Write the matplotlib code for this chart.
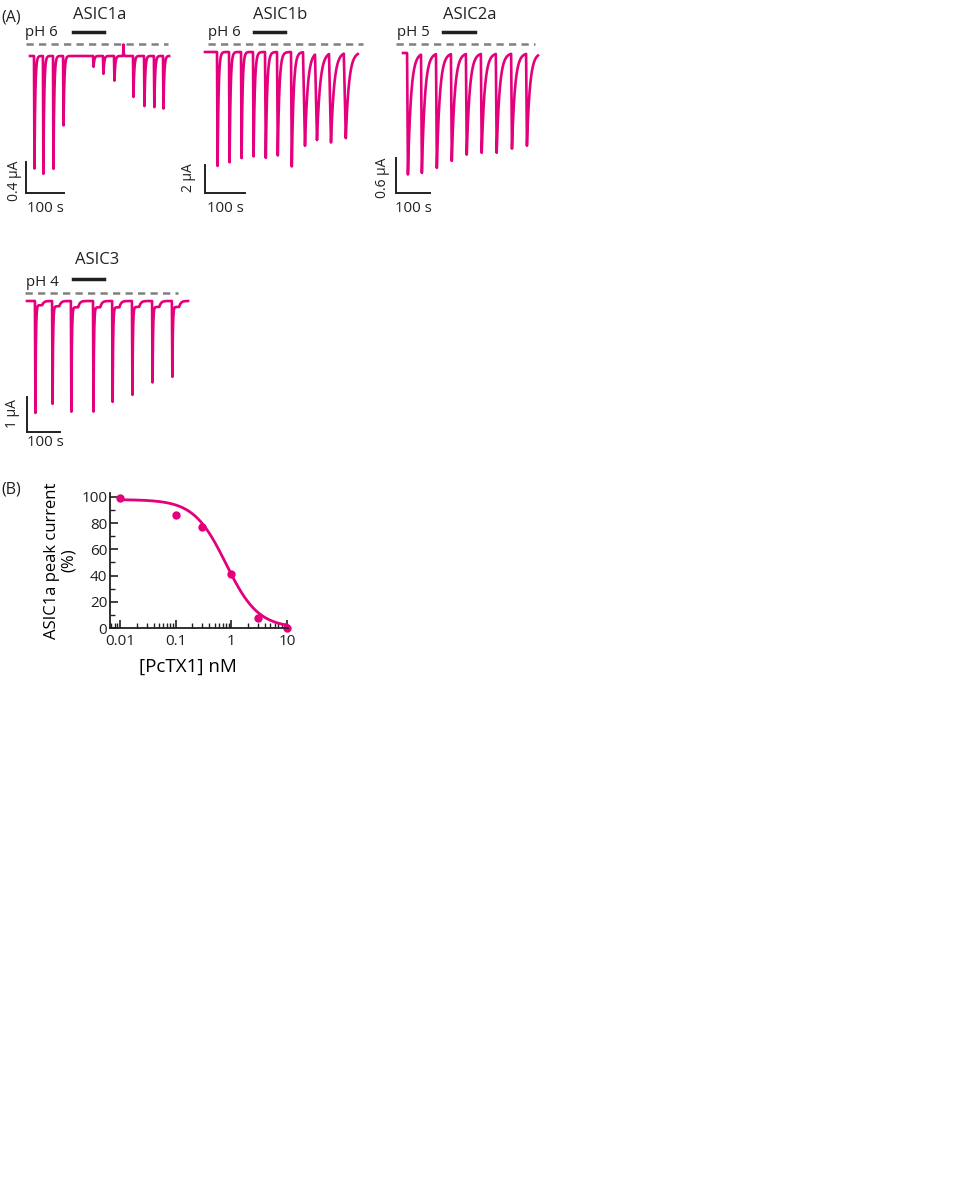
import numpy as np
import matplotlib
matplotlib.use("Agg")
import matplotlib.pyplot as plt
from matplotlib.ticker import LogLocator, NullFormatter

plt.rcParams['font.family'] = ['Open Sans', 'DejaVu Sans']

W, H = 960, 1190
MAG = '#E4007C'
GREY = '#808080'
INK = '#231f20'

# ------------------------------------------------------------------ data
# ASIC1a (pH 6): pulse onset times (s) and peak inward currents (uA)
a1a_times = [10.5, 34, 60.5, 87, 166, 192, 221, 271, 300, 326, 350]
a1a_peaks = [1.46, 1.52, 1.46, 0.90, 0.14, 0.23, 0.32, 0.53, 0.65, 0.66, 0.68]
a1a_art_times = [245]
a1a_art_amps = [-0.15]
a1a_end = 366

# ASIC1b (pH 6)
a1b_times = [30, 60, 90, 120, 150, 180, 215, 245, 275, 310, 347]
a1b_peaks = [8.2, 7.9, 7.6, 7.5, 7.6, 7.4, 8.2, 6.7, 6.2, 6.4, 6.1]
a1b_tau = [2.5, 2.5, 2.5, 3, 3.5, 4, 4.5, 7, 8, 8, 8]
a1b_rise = [1.5, 1.5, 1.5, 1.5, 2, 2, 2, 5, 5, 5, 5]
a1b_end = 382

# ASIC2a (pH 5)
a2a_times = [12, 53, 97, 141, 185, 229, 273, 318, 362]
a2a_peaks = [2.09, 2.04, 1.96, 1.84, 1.73, 1.70, 1.70, 1.63, 1.58]
a2a_end = 397

# ASIC3 (pH 4)
a3_times = [24, 76, 133, 200, 258, 318, 379, 439]
a3_peaks = [3.20, 2.97, 3.17, 3.20, 2.91, 2.69, 2.34, 2.17]
a3_sustained = [0.12, 0.15, 0.18, 0.18, 0.18, 0.17, 0.17, 0.17]
a3_end = 488

# (B) dose-response
pctx_conc = [0.01, 0.1, 0.3, 1, 3, 10]
pctx_resp = [99, 86, 77, 41, 8, 0]
fit_top, fit_ic50, fit_hill = 98, 0.8, 1.5

# ------------------------------------------------------------------ helpers
fig = plt.figure(figsize=(W / 100, H / 100), dpi=100)


def ftext(x, y, s, ha='left', va='center', size=10, rot=0):
    fig.text(x / W, 1 - y / H, s, ha=ha, va=va, fontsize=size, rotation=rot,
             color=INK)


def kernel(t, t0, rise, tau):
    d = t - t0
    out = np.zeros_like(t)
    on = (d >= 0) & (d < rise)
    out[on] = d[on] / rise
    aft = d >= rise
    out[aft] = np.exp(-(d[aft] - rise) / tau)
    return out


def plateau(t, t0, rise, dur, tau_off):
    d = t - t0
    out = np.zeros_like(t)
    on = (d >= 0) & (d < rise)
    out[on] = d[on] / rise
    hold = (d >= rise) & (d < dur)
    out[hold] = 1.0
    aft = d >= dur
    out[aft] = np.exp(-(d[aft] - dur) / tau_off)
    return out


def trace_panel(box, xs, pxs, yb, pxa):
    bx0, by0, bx1, by1 = box
    ax = fig.add_axes([bx0 / W, 1 - by1 / H, (bx1 - bx0) / W, (by1 - by0) / H])
    ax.set_xlim((bx0 - xs) / pxs, (bx1 - xs) / pxs)
    ax.set_ylim(-(by1 - yb) / pxa, -(by0 - yb) / pxa)
    ax.axis('off')
    tx = lambda xp: (xp - xs) / pxs
    iy = lambda yp: -(yp - yb) / pxa
    return ax, tx, iy


def decorate(ax, tx, iy, dash, sbar, amp):
    (dx0, dx1, dy) = dash
    ax.plot([tx(dx0), tx(dx1)], [iy(dy), iy(dy)], color=GREY, lw=1.8,
            ls=(0, (2.9, 2.1)), clip_on=False)
    (sx, sy) = sbar
    ax.plot([tx(sx), tx(sx), tx(sx) + 100], [iy(sy) + amp, iy(sy), iy(sy)],
            color=INK, lw=1.4, clip_on=False, solid_joinstyle='miter')


def pharm_bar(x0, x1, y):
    fig.add_artist(plt.Line2D([x0 / W, x1 / W], [1 - y / H, 1 - y / H],
                              color=INK, lw=2.5))


TRACE_LW = 1.9
TITLE = 12
LAB = 10.8

# ------------------------------------------------------------------ ASIC1a
ax, tx, iy = trace_panel((0, 30, 180, 200), 30, 0.38, 56, 77.5)
t = np.linspace(0, a1a_end, 12000)
I = np.zeros_like(t)
for t0, a in zip(a1a_times, a1a_peaks):
    I -= a * kernel(t, t0, 1.2, 2.2)
for t0, a in zip(a1a_art_times, a1a_art_amps):
    I -= a * kernel(t, t0, 0.8, 0.8)
ax.plot(t, I, color=MAG, lw=TRACE_LW, clip_on=False)
decorate(ax, tx, iy, (26, 168, 43.5), (26, 193), 0.4)
ftext(1, 17, '(A)', size=11.5)
ftext(100, 15, 'ASIC1a', ha='center', size=TITLE)
ftext(25, 33, 'pH 6', size=LAB)
pharm_bar(73, 104, 32)
ftext(14, 181, '0.4 µA', ha='center', rot=90, size=10)
ftext(45, 209, '100 s', ha='center', size=LAB)

# ------------------------------------------------------------------ ASIC1b
ax, tx, iy = trace_panel((190, 30, 370, 200), 205, 0.40, 52, 14)
t = np.linspace(0, a1b_end, 12000)
I = np.zeros_like(t)
for t0, a, r, tau in zip(a1b_times, a1b_peaks, a1b_rise, a1b_tau):
    I -= a * kernel(t, t0, r, tau)
ax.plot(t, I, color=MAG, lw=TRACE_LW, clip_on=False)
decorate(ax, tx, iy, (208, 363, 44), (205, 193), 2)
ftext(280, 15, 'ASIC1b', ha='center', size=TITLE)
ftext(208, 33, 'pH 6', size=LAB)
pharm_bar(254, 285, 32)
ftext(189, 178, '2 µA', ha='center', rot=90, size=10)
ftext(225, 209, '100 s', ha='center', size=LAB)

# ------------------------------------------------------------------ ASIC2a
ax, tx, iy = trace_panel((380, 30, 550, 200), 403, 0.34, 53, 58.3)
t = np.linspace(0, a2a_end, 12000)
I = np.zeros_like(t)
for t0, a in zip(a2a_times, a2a_peaks):
    I -= a * kernel(t, t0, 2.5, 9)
ax.plot(t, I, color=MAG, lw=TRACE_LW, clip_on=False)
decorate(ax, tx, iy, (396, 535, 43.5), (396, 193), 0.6)
ftext(470, 15, 'ASIC2a', ha='center', size=TITLE)
ftext(397, 33, 'pH 5', size=LAB)
pharm_bar(443, 475, 32)
ftext(383, 178, '0.6 µA', ha='center', rot=90, size=10)
ftext(413, 209, '100 s', ha='center', size=LAB)

# ------------------------------------------------------------------ ASIC3
ax, tx, iy = trace_panel((0, 280, 200, 440), 27, 0.33, 301, 35)
t = np.linspace(0, a3_end, 12000)
I = np.zeros_like(t)
for t0, a, s in zip(a3_times, a3_peaks, a3_sustained):
    I -= (a - s) * kernel(t, t0, 1.5, 1.5)
    I -= s * plateau(t, t0, 1.5, 22, 5)
ax.plot(t, I, color=MAG, lw=TRACE_LW, clip_on=False)
decorate(ax, tx, iy, (25, 178, 293), (27, 432), 1)
ftext(97, 260, 'ASIC3', ha='center', size=TITLE)
ftext(26, 282, 'pH 4', size=LAB)
pharm_bar(73, 104, 279)
ftext(12, 414, '1 µA', ha='center', rot=90, size=10)
ftext(45, 443, '100 s', ha='center', size=LAB)

# ------------------------------------------------------------------ (B)
axb = fig.add_axes([110 / W, 1 - 628 / H, 178 / W, 135 / H])
axb.set_xscale('log')
axb.set_xlim(0.0066, 10.4)
axb.set_ylim(0, 103)
xc = np.logspace(-2, 1, 400)
axb.plot(xc, fit_top / (1 + (xc / fit_ic50) ** fit_hill), color=MAG, lw=2.0,
         clip_on=False)
axb.plot(pctx_conc, pctx_resp, 'o', color=MAG, ms=5, clip_on=False)
for s in ('top', 'right'):
    axb.spines[s].set_visible(False)
for s in ('left', 'bottom'):
    axb.spines[s].set_linewidth(1.3)
    axb.spines[s].set_color(INK)
axb.set_yticks([0, 20, 40, 60, 80, 100])
axb.set_yticks(np.arange(10, 100, 20), minor=True)
axb.set_xticks([0.01, 0.1, 1, 10])
axb.set_xticklabels(['0.01', '0.1', '1', '10'])
axb.xaxis.set_minor_locator(LogLocator(base=10, subs=np.arange(2, 10), numticks=20))
axb.xaxis.set_minor_formatter(NullFormatter())
axb.tick_params(which='both', direction='in', colors=INK, labelsize=11)
axb.tick_params(which='major', length=6, width=1.2)
axb.tick_params(axis='y', which='major', pad=2)
axb.tick_params(axis='x', which='major', pad=4)
axb.tick_params(which='minor', length=3.5, width=1.0)
axb.set_xlabel('[PcTX1] nM', fontsize=13.5)
axb.xaxis.set_label_coords(0.44, -0.22)
axb.set_ylabel('ASIC1a peak current\n(%)', fontsize=12, labelpad=3,
               linespacing=1.05)
ftext(1, 490, '(B)', size=11.5)

fig.savefig('out.png', dpi=100, facecolor='white')
